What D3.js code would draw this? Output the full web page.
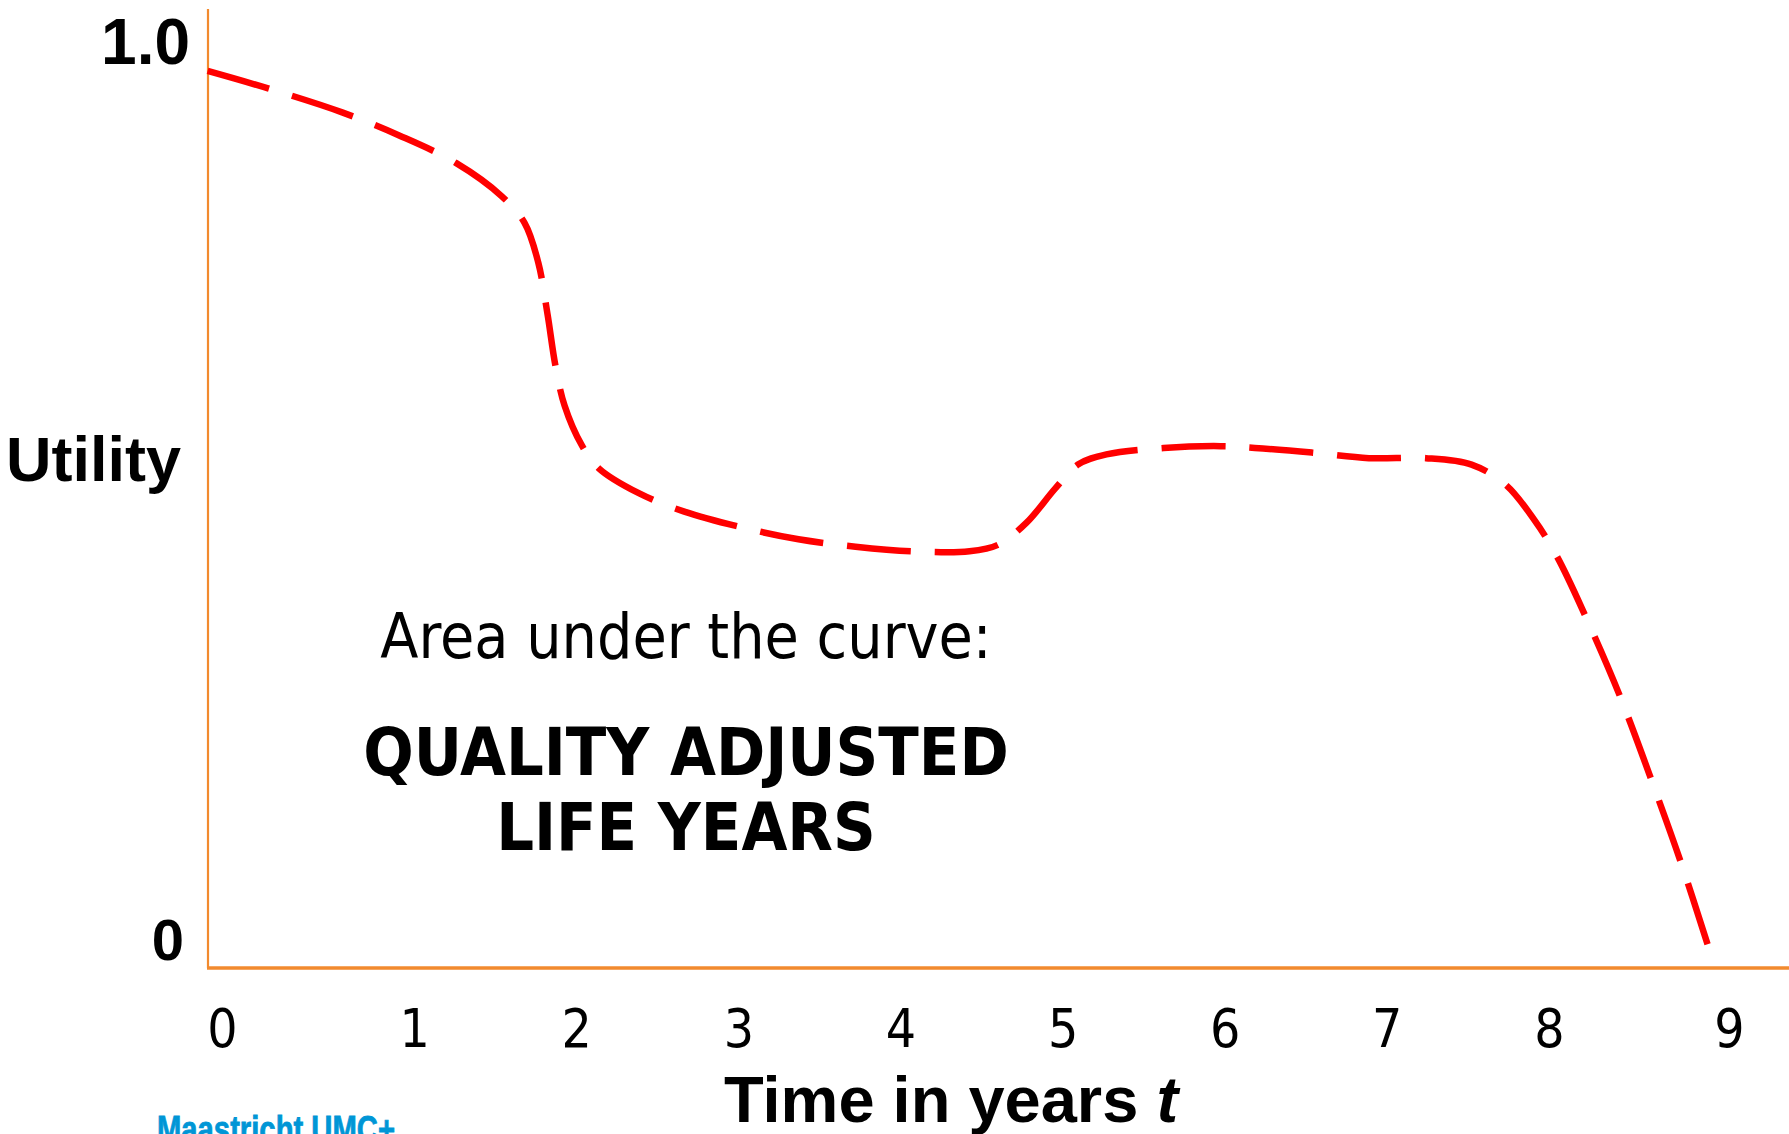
<!DOCTYPE html>
<html>
<head>
<meta charset="utf-8">
<script src="https://cdn.jsdelivr.net/npm/d3@7"></script>
<style>
  html, body { margin: 0; padding: 0; background: #fff; overflow: hidden; }
</style>
</head>
<body>
<div id="chart"></div>
<script>
// QALY utility curve

const FRAME_WIDTH = 1789;
const FRAME_HEIGHT = 1134;

// curve: time (years) and utility
const years = [-0.274, 0.099, 0.556, 0.908, 1.260, 1.541, 1.682, 1.766, 1.823, 1.872,
               1.928, 2.034, 2.139, 2.386, 2.667, 3.019, 3.371, 3.723, 4.075, 4.426,
               4.602, 4.778, 4.954, 5.095, 5.271, 5.623, 5.975, 6.186, 6.538, 6.890,
               7.241, 7.523, 7.734, 7.910, 8.051, 8.227, 8.438, 8.649, 8.825, 8.980];
const utility = [0.973, 0.954, 0.928, 0.903, 0.873, 0.837, 0.808, 0.765, 0.709, 0.653,
                 0.610, 0.567, 0.542, 0.515, 0.495, 0.478, 0.465, 0.457, 0.452, 0.452,
                 0.459, 0.483, 0.520, 0.546, 0.557, 0.564, 0.566, 0.564, 0.559, 0.553,
                 0.553, 0.546, 0.524, 0.486, 0.446, 0.381, 0.295, 0.196, 0.109, 0.025];

const xTicks = [0, 1, 2, 3, 4, 5, 6, 7, 8, 9];
const yTicks = [0, 1];
const yTickLabels = ["0", "1.0"];

const AXIS_LEFT = 208;
const AXIS_BOTTOM = 968;
const AXIS_COLOR = "#F28A2E";

const svg = d3.select("#chart")
  .append("svg")
    .attr("width", FRAME_WIDTH)
    .attr("height", FRAME_HEIGHT);

const xScale = d3.scaleLinear().domain([0, 9]).range([252, 1711]);
const yScale = d3.scaleLinear().domain([0, 1]).range([AXIS_BOTTOM, 46]);

// axes lines
svg.append("line")
  .attr("x1", AXIS_LEFT).attr("x2", AXIS_LEFT)
  .attr("y1", 9).attr("y2", AXIS_BOTTOM)
  .attr("stroke", AXIS_COLOR)
  .attr("stroke-width", 2.2);

svg.append("line")
  .attr("x1", AXIS_LEFT - 1).attr("x2", FRAME_WIDTH)
  .attr("y1", AXIS_BOTTOM).attr("y2", AXIS_BOTTOM)
  .attr("stroke", AXIS_COLOR)
  .attr("stroke-width", 3.5);

// x tick labels
const xAxis = d3.axisBottom(xScale)
  .tickValues(xTicks)
  .tickSize(0)
  .tickPadding(0)
  .tickFormat(d3.format("d"));

const gx = svg.append("g")
  .attr("transform", "translate(0," + AXIS_BOTTOM + ")")
  .call(xAxis);
gx.select(".domain").remove();
gx.selectAll("text")
  .attr("y", 79)
  .attr("dy", 0)
  .attr("dx", d => d == 0 ? -30 : (d == 9 ? 18 : 0))
  .attr("fill", "#000")
  .attr("font-family", "'DejaVu Sans Condensed', 'DejaVu Sans', sans-serif")
  .attr("font-stretch", "condensed")
  .attr("font-size", 53);

// y tick labels
const yAxis = d3.axisLeft(yScale)
  .tickValues(yTicks)
  .tickSize(0)
  .tickPadding(0)
  .tickFormat((d, i) => yTickLabels[i]);

const gy = svg.append("g")
  .attr("transform", "translate(" + (AXIS_LEFT - 18) + ",0)")
  .call(yAxis);
gy.select(".domain").remove();
gy.selectAll("text")
  .attr("x", d => d == 0 ? -6 : 0)
  .attr("dy", d => d == 0 ? "-0.15em" : "0.28em")
  .attr("fill", "#000")
  .attr("font-family", "'Liberation Sans', Arial, sans-serif")
  .attr("font-weight", "bold")
  .attr("font-size", d => d == 0 ? 58 : 64);

// the curve
const line = d3.line()
  .x((d, i) => xScale(years[i]))
  .y((d, i) => yScale(utility[i]))
  .curve(d3.curveCatmullRom.alpha(0.5));

svg.append("path")
  .datum(years)
  .attr("d", line)
  .attr("fill", "none")
  .attr("stroke", "#FF0000")
  .attr("stroke-width", 6.5)
  .attr("stroke-dasharray", "64,24");

// axis titles
svg.append("text")
  .attr("x", 6)
  .attr("y", 481)
  .attr("font-family", "'Liberation Sans', Arial, sans-serif")
  .attr("font-weight", "bold")
  .attr("font-size", 63)
  .text("Utility");

const xTitle = svg.append("text")
  .attr("x", 724)
  .attr("y", 1122)
  .attr("font-family", "'Liberation Sans', Arial, sans-serif")
  .attr("font-weight", "bold")
  .attr("font-size", 65);
xTitle.append("tspan").text("Time in years ");
xTitle.append("tspan").attr("font-style", "italic").text("t");

// annotation
const CENTER_X = 686;
svg.append("text")
  .attr("x", CENTER_X)
  .attr("y", 658)
  .attr("text-anchor", "middle")
  .attr("font-family", "'DejaVu Sans Condensed', 'DejaVu Sans', sans-serif")
  .attr("font-stretch", "condensed")
  .attr("font-size", 62)
  .text("Area under the curve:");

svg.append("text")
  .attr("x", CENTER_X)
  .attr("y", 775)
  .attr("text-anchor", "middle")
  .attr("font-family", "'DejaVu Sans Condensed', 'DejaVu Sans', sans-serif")
  .attr("font-stretch", "condensed")
  .attr("font-weight", "bold")
  .attr("font-size", 66)
  .text("QUALITY ADJUSTED");

svg.append("text")
  .attr("x", CENTER_X)
  .attr("y", 850)
  .attr("text-anchor", "middle")
  .attr("font-family", "'DejaVu Sans Condensed', 'DejaVu Sans', sans-serif")
  .attr("font-stretch", "condensed")
  .attr("font-weight", "bold")
  .attr("font-size", 66)
  .text("LIFE YEARS");

// logo text, cut off by the bottom edge
svg.append("text")
  .attr("x", 157)
  .attr("y", 1142)
  .attr("font-family", "'Liberation Sans', Arial, sans-serif")
  .attr("font-weight", "bold")
  .attr("font-size", 37)
  .attr("fill", "#0096D6")
  .attr("stroke", "#0096D6")
  .attr("stroke-width", 0.8)
  .attr("textLength", 238)
  .attr("lengthAdjust", "spacingAndGlyphs")
  .text("Maastricht UMC+");
</script>
</body>
</html>
